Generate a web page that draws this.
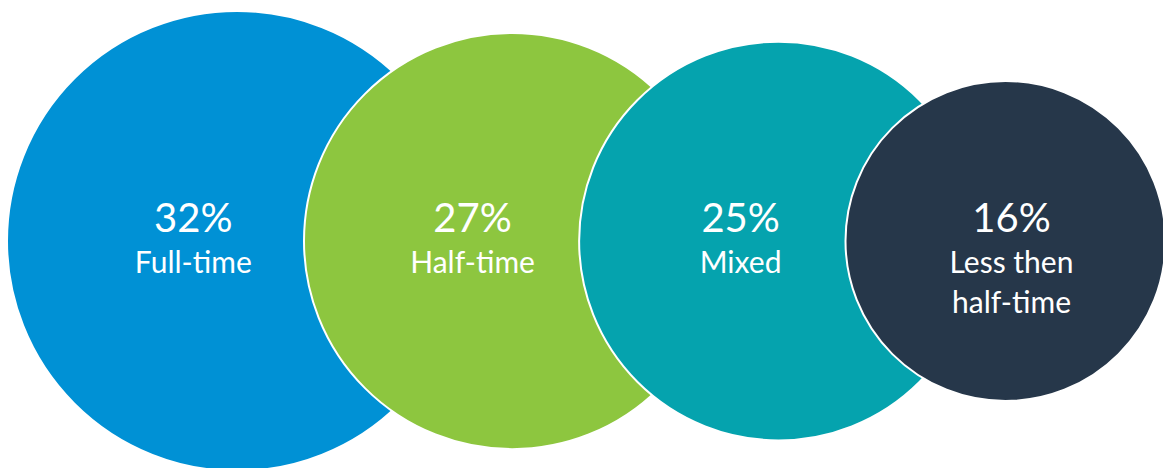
<!DOCTYPE html>
<html>
<head>
<meta charset="utf-8">
<script src="https://cdn.jsdelivr.net/npm/d3@7"></script>
<style>
  html, body { margin: 0; padding: 0; background: #fff; }
  svg { display: block; }
</style>
</head>
<body>
<main></main>
<script>
const shares = [32, 27, 25, 16];
const labels = [['Full-time'], ['Half-time'], ['Mixed'], ['Less then', 'half-time']];
const colors = ['#0091d5', '#8dc63f', '#05a3ae', '#26374a'];

const dimensions = {
  width: 1163,
  height: 468,
  centerY: 241,
  leftEdge: 7,
  step: 67,
};

const rScale = d3
  .scaleLinear()
  .domain([16, 32])
  .range([160, 230]);

// each circle starts a fixed distance past the previous centre
const circles = [];
shares.forEach((value, i) => {
  const r = rScale(value);
  const cx = i === 0
    ? dimensions.leftEdge + r
    : circles[i - 1].cx + dimensions.step + r;
  circles.push({
    value,
    label: labels[i],
    color: colors[i],
    r,
    cx,
    // text sits a bit left of centre, except on the last (uncovered) circle
    tx: i === shares.length - 1 ? cx + 6 : cx - r * 0.19,
  });
});

const wrapper = d3
  .select('main')
  .append('svg')
  .attr('width', dimensions.width)
  .attr('height', dimensions.height);

const groups = wrapper
  .selectAll('g.bubble')
  .data(circles)
  .join('g')
  .attr('class', 'bubble');

groups
  .append('circle')
  .attr('cx', d => d.cx)
  .attr('cy', dimensions.centerY)
  .attr('r', d => d.r)
  .attr('fill', d => d.color)
  .attr('stroke', '#fff')
  .attr('stroke-width', 2);

const text = groups
  .append('text')
  .attr('fill', '#fff')
  .attr('text-anchor', 'middle')
  .attr('font-family', 'Lato, "Open Sans", sans-serif');

text
  .append('tspan')
  .attr('x', d => d.tx)
  .attr('y', 232)
  .attr('font-size', 40)
  .text(d => `${d.value}%`);

text
  .selectAll('tspan.label')
  .data(d => d.label.map(line => ({ line, tx: d.tx })))
  .join('tspan')
  .attr('class', 'label')
  .attr('x', d => d.tx)
  .attr('y', (d, i) => 273 + i * 40)
  .attr('font-size', 30)
  .text(d => d.line);
</script>
</body>
</html>
